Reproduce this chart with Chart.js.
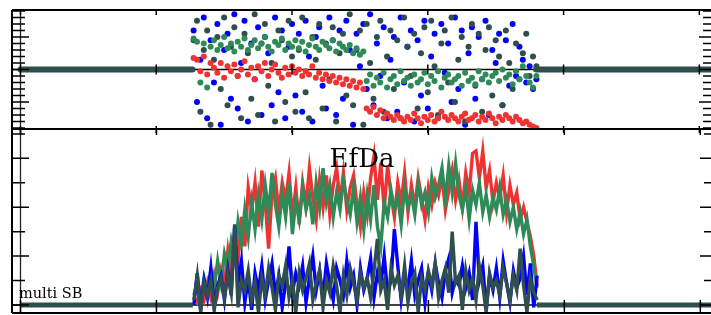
<!DOCTYPE html>
<html>
<head>
<meta charset="utf-8">
<script src="https://cdn.jsdelivr.net/npm/chart.js"></script>
<style>
html, body { margin: 0; padding: 0; background: #fff; overflow: hidden; width: 711px; height: 315px; }
#wrap { position: relative; width: 711px; height: 315px; overflow: hidden; }
canvas { position: absolute; left: 0; top: 0; }
</style>
</head>
<body>
<div id="wrap">
  <canvas id="chartTop" width="722" height="315"></canvas>
  <canvas id="chartBottom" width="722" height="315"></canvas>
</div>
<script>
// --- dados ---
const X_START = 51;                       // posicao da primeira amostra
const X_TICKS = [0, 40, 80, 120, 160, 200];
const flatLeft = [0, 50.7];
const flatRight = [151.9, 206];

// painel de cima (pontos)
const topBlue = [
  1.2, -1.0, 0.3, 1.6, -1.5, 0.9, -0.4, 1.4, -1.7, 0.6,
  1.1, -0.9, 1.7, -1.2, 0.2, 1.5, -1.6, 0.8, -0.3, 1.3,
  -1.4, 1.0, 0.5, -1.1, 1.6, -0.7, 1.2, -1.5, 0.7, 1.4,
  -0.8, 1.1, -1.3, 1.5, 0.4, -1.6, 1.0, 1.3, -0.5, -1.2,
  1.6, 0.9, -1.4, 1.2, -0.9, 1.5, 0.6, -1.7, 1.1, 0.1,
  1.4, -0.6, 1.7, -1.1, 0.8, -0.2, 1.3, -1.5, 0.3, 1.0,
  -1.3, 1.6, -0.4, 0.7, 1.2, -1.6, 0.9, -0.8, 1.5, -1.2,
  0.4, 1.1, -1.5, 1.4, -0.1, 0.8, -1.0, 1.6, -0.6, 1.2,
  -1.7, 0.5, 1.3, -0.9, 1.0, -0.3, 1.5, -1.4, 0.6, 0.2,
  1.1, -1.1, 0.9, -0.5, 1.4, -0.2, 0.7, 0.3, -0.4, 0.1,
  -0.6, -0.3
];
const topSlate = [
  0.9, 1.5, -1.3, 0.6, 1.2, -1.7, 0.3, 1.0, -0.6, 1.6,
  -1.1, 0.7, 1.3, -0.2, -1.5, 1.1, 0.5, -0.9, 1.7, -1.4,
  0.8, 1.4, -0.5, 0.2, -1.6, 1.2, 0.9, -1.0, 1.5, 0.4,
  -1.3, 0.6, 1.6, -0.7, -1.5, 1.0, 0.3, 1.4, -1.2, 0.8,
  -0.3, 1.3, -1.6, 0.5, 1.1, -0.8, 1.7, -1.1, 0.6, 1.2,
  -1.7, 1.4, 0.2, -0.9, 1.0, 1.5, -1.3, 0.4, 1.2, -0.6,
  0.9, -1.5, 1.6, 0.7, -0.2, 1.1, -1.2, 0.5, 1.3, -0.7,
  1.5, 0.1, -1.4, 0.8, 1.2, -0.4, 1.6, -1.0, 0.3, 1.0,
  -1.6, 0.7, 1.4, -0.5, 1.1, -1.3, 0.6, 1.3, -0.8, 0.9,
  0.4, -1.1, 1.2, 0.2, -0.6, 0.8, -0.3, 0.5, 1.1, -0.2,
  0.4, 0.1
];
const topGreen = [
  0.95, 0.85, -0.40, 0.80, -0.55,
  0.70, 0.90, 0.60, 0.75, 1.00, 0.65, 0.80, 0.55, 0.85, 0.70,
  0.95, 0.60, 0.75, 0.90, 0.65, 0.80, 1.00, 0.70, 0.55, 0.85,
  0.75, 0.95, 0.60, 0.80, 0.70, 0.90, 0.65, 0.85, 0.55, 0.75,
  0.95, 0.70, 0.60, 0.85, 0.75, 0.65, 0.90, 0.55, 0.80, 0.70,
  0.60, 0.75, 0.50, 0.65, 0.45, 0.55,
  -0.35, -0.15, -0.50, -0.25, -0.40, -0.10, -0.55, -0.30, -0.20, -0.45,
  -0.05, -0.35, -0.25, -0.50, -0.15, -0.40, -0.30, -0.10, -0.45, -0.20,
  -0.35, -0.05, -0.55, -0.25, -0.15, -0.40, -0.30, -0.20, -0.50, -0.10,
  -0.35, -0.25, -0.45, -0.05, -0.30, -0.15, -0.40, -0.20, -0.10, -0.35,
  0.00, -0.25, -0.15, -0.45, -0.05, -0.30, 0.10, -0.20, -0.40, -0.55,
  -0.20
];
const topRed = [
  0.35, 0.30, -0.05, 0.40, -0.15, 0.20,
  0.05, -0.10, 0.20, -0.25, 0.10, -0.05, 0.15, -0.20, 0.00, 0.25,
  -0.15, 0.05, -0.30, 0.10, -0.05, 0.20, -0.20, 0.00, 0.15, -0.10,
  -0.25, 0.05, -0.15, 0.10,
  -0.10, 0.00, -0.20, -0.05, -0.15, 0.10, -0.25, -0.10, -0.30, -0.15,
  -0.35, -0.20, -0.40, -0.25, -0.45, -0.30, -0.50, -0.35, -0.55, -0.40,
  -0.60,
  -1.20, -1.30, -1.15, -1.40, -1.25, -1.50, -1.35, -1.45, -1.55, -1.40,
  -1.50, -1.60, -1.45, -1.55, -1.35, -1.50, -1.65, -1.45, -1.55, -1.40,
  -1.60, -1.50, -1.30, -1.45, -1.55, -1.40, -1.50, -1.60, -1.45, -1.35,
  -1.55, -1.50, -1.40, -1.60, -1.45, -1.55, -1.35, -1.50, -1.65, -1.45,
  -1.55, -1.40, -1.50, -1.60, -1.45, -1.55, -1.65, -1.60, -1.70, -1.75,
  -1.80
];

// painel de baixo (linhas)
const botRed = [
  0.3, 0.1, 0.6, 0.2, 0.9, 0.3, 1.2, 0.5, 1.4, 0.8,
  2.2, 1.1, 2.6, 1.8, 3.6, 2.4, 4.8, 3.9, 5.0, 3.2,
  5.5, 4.2, 2.3, 4.6, 5.2, 3.8, 5.0, 4.3, 5.4, 3.6,
  4.8, 3.3, 5.0, 4.1, 5.6, 4.4, 3.5, 5.1, 4.0, 5.3,
  3.7, 4.9, 5.6, 4.2, 5.4, 3.9, 4.8, 5.3, 4.1, 3.2,
  4.6, 3.7, 5.2, 6.1, 4.3, 5.8, 3.9, 5.7, 4.5, 3.6,
  5.0, 4.2, 5.4, 3.8, 4.9, 4.0, 5.2, 4.4, 3.5, 4.8,
  4.1, 5.0, 4.5, 5.3, 3.9, 4.7, 5.5, 4.3, 5.1, 4.0,
  5.4, 4.6, 6.2, 6.3, 5.2, 6.3, 4.8, 5.5, 4.2, 5.0,
  4.4, 5.3, 3.8, 4.9, 4.1, 4.6, 3.5, 4.0, 3.4, 2.8,
  2.0, 0.8
];
const botGreen = [
  0.4, 0.8, 0.2, 1.1, 0.5, 1.4, 0.7, 1.8, 0.9, 2.1,
  1.5, 2.6, 1.9, 3.4, 2.5, 3.9, 2.8, 4.2, 3.1, 4.5,
  3.5, 4.9, 3.8, 5.4, 4.1, 3.2, 4.6, 3.6, 5.0, 2.9,
  4.3, 3.5, 4.8, 3.9, 4.5, 3.3, 5.0, 4.0, 5.6, 4.2,
  4.9, 3.6, 4.6, 3.9, 5.1, 4.3, 3.7, 4.8, 3.4, 4.4,
  3.1, 4.5, 3.5, 4.9, 3.2, 2.4, 4.2, 3.6, 4.7, 3.9,
  4.4, 3.3, 4.8, 4.0, 4.5, 3.7, 5.0, 4.1, 4.6, 3.8,
  5.2, 4.4, 4.9, 5.6, 4.3, 5.7, 4.6, 5.8, 4.5, 3.9,
  4.8, 3.5, 4.7, 4.1, 5.0, 3.8, 4.5, 3.6, 4.4, 3.9,
  4.8, 3.7, 4.3, 3.4, 4.0, 3.1, 3.8, 2.9, 3.5, 2.4,
  1.6, 0.7
];
const botBlue = [
  0.0, 1.3, -0.2, 1.0, 0.3, 1.5, -0.1, 0.8, 1.2, 0.2,
  1.4, 0.4, 3.2, 0.9, 1.8, 0.1, 1.1, -0.2, 1.3, 0.6,
  1.6, 0.2, 1.0, 1.7, 0.4, 1.2, -0.1, 0.9, 2.4, 0.5,
  1.3, 0.8, 1.6, 0.1, 1.1, 2.0, 0.6, 1.4, 0.3, 1.7,
  0.9, 0.2, 1.5, 1.0, 0.4, 1.8, 0.7, 1.2, 0.0, 1.5,
  0.6, 1.1, 1.9, 0.3, 1.3, 0.8, 2.0, 0.5, 1.0, 3.1,
  1.6, 0.2, 1.2, 0.7, 1.8, 0.4, 1.0, 1.5, 0.1, 1.3,
  0.6, 1.7, 0.9, 0.3, 1.4, 1.9, 0.5, 1.1, 0.8, 1.6,
  0.7, 1.3, 0.2, 3.4, 1.0, 1.6, -0.2, 1.2, 0.6, 1.5,
  0.3, 1.8, 0.9, 0.1, 1.4, 0.7, 1.1, 2.0, 0.4, 1.7,
  -0.1, 1.2
];
const botSlate = [
  0.2, 1.2, -0.3, 0.9, 0.4, 1.0, -0.2, 0.7, 1.1, 0.3,
  1.3, 0.5, 3.3, -0.1, 1.0, 0.6, 1.4, 0.2, 0.9, -0.3,
  1.1, 0.4, 1.5, 0.7, -0.2, 1.2, 0.8, 1.6, 0.3, 1.0,
  -0.3, 1.3, 0.6, 1.1, 1.7, 0.2, 0.9, 1.4, -0.1, 1.0,
  0.5, 1.6, 0.8, -0.3, 1.2, 0.4, 1.5, 0.9, 0.2, 1.3,
  0.7, 1.1, 0.3, 1.4, 2.7, 0.6, 1.0, -0.2, 1.5, 0.8,
  1.2, 0.4, 1.6, 0.1, 0.9, 1.3, -0.3, 1.1, 0.6, 1.4,
  0.8, 1.7, 0.3, 1.0, 1.5, 0.5, 3.0, 0.9, 1.2, -0.2,
  1.4, 0.6, 1.1, 0.2, 1.6, 0.8, -0.3, 1.3, 0.7, 1.0,
  0.4, 1.5, 0.9, 0.2, 1.2, 0.6, 2.3, 0.8, -0.3, 1.1,
  0.5, 0.2
];

const BLUE = '#0000ff', SLATE = '#2f4f4f', GREEN = '#2e8b57', RED = '#ef3333';
const X_MIN = -2.5, X_MAX = 205.5;

const toPoints = vals => vals.map((v, i) => ({ x: X_START + i, y: v }));
const flatPoints = r => [{ x: r[0], y: 0 }, { x: r[1], y: 0 }];

// moldura, ticks e textos desenhados a partir das escalas
function framePlugin(name, yMarks, xSpans, drawText) {
  return {
    id: 'frame' + name,
    beforeDatasetsDraw(chart) {
      const { ctx, chartArea: a } = chart;
      const y0 = chart.scales.y.getPixelForValue(0);
      ctx.save();
      ctx.strokeStyle = '#000';
      ctx.lineWidth = 1.5;
      ctx.beginPath();
      ctx.moveTo(a.left, y0);
      ctx.lineTo(a.right, y0);
      ctx.stroke();
      ctx.restore();
    },
    afterDraw(chart) {
      const { ctx, chartArea: a, scales: { x, y } } = chart;
      ctx.save();
      ctx.strokeStyle = '#000';
      ctx.lineWidth = 2;
      ctx.beginPath();
      ctx.moveTo(a.left, a.top); ctx.lineTo(a.right, a.top);
      ctx.moveTo(a.left, a.bottom); ctx.lineTo(a.right, a.bottom);
      ctx.moveTo(a.left, a.top); ctx.lineTo(a.left, a.bottom);
      ctx.stroke();

      const x0 = x.getPixelForValue(0);
      ctx.lineWidth = 1.3;
      ctx.strokeStyle = '#222';
      ctx.beginPath();
      ctx.moveTo(x0, a.top); ctx.lineTo(x0, a.bottom);
      ctx.stroke();

      ctx.strokeStyle = '#000';
      ctx.lineWidth = 1.5;
      ctx.beginPath();
      yMarks.forEach(m => {
        const py = y.getPixelForValue(m.v);
        ctx.moveTo(a.left, py); ctx.lineTo(a.left + (m.major ? 17 : 13), py);
        ctx.moveTo(a.right - (m.major ? 19 : 15), py); ctx.lineTo(a.right, py);
      });
      const y0 = y.getPixelForValue(0);
      X_TICKS.forEach(t => {
        const px = x.getPixelForValue(t);
        xSpans.forEach(s => {
          const base = s.at === 'top' ? a.top : (s.at === 'bottom' ? a.bottom : y0);
          ctx.moveTo(px, base + s.from); ctx.lineTo(px, base + s.to);
        });
      });
      ctx.stroke();
      if (drawText) drawText(ctx, a);
      ctx.restore();
    }
  };
}

function panelOptions(yMin, yMax, padTop, padBottom) {
  return {
    responsive: false,
    animation: false,
    events: [],
    layout: { padding: { left: 12, right: 3, top: padTop, bottom: padBottom } },
    plugins: { legend: { display: false }, tooltip: { enabled: false } },
    scales: {
      x: { type: 'linear', display: false, min: X_MIN, max: X_MAX },
      y: { type: 'linear', display: false, min: yMin, max: yMax }
    }
  };
}

// --- painel de cima ---
const topMarks = [];
for (let k = -9; k <= 9; k++) topMarks.push({ v: k * 0.2, major: k % 5 === 0 });

const dot = (data, color, order) => ({
  type: 'scatter', data: toPoints(data), order: order,
  pointRadius: 3, pointBorderWidth: 0, pointBackgroundColor: color, showLine: false
});
const flat = (r, width, order) => ({
  type: 'line', data: flatPoints(r), order: order,
  borderColor: SLATE, borderWidth: width, borderCapStyle: 'round', pointRadius: 0
});

new Chart(document.getElementById('chartTop'), {
  type: 'scatter',
  data: {
    datasets: [
      flat(flatLeft, 6, 0),
      flat(flatRight, 6, 0),
      dot(topRed, RED, 1),
      dot(topGreen, GREEN, 2),
      dot(topSlate, SLATE, 3),
      dot(topBlue, BLUE, 4)
    ]
  },
  options: panelOptions(-1.83, 1.83, 10, 186),
  plugins: [framePlugin('Top', topMarks, [
    { at: 'top', from: 0, to: 5 },
    { at: 'zero', from: -5, to: 5 },
    { at: 'bottom', from: -3, to: 4 }
  ])]
});

// --- painel de baixo ---
const botMarks = [];
for (let k = 0; k <= 7; k++) botMarks.push({ v: k, major: k % 2 === 0 });

const trace = (data, color, order) => ({
  type: 'line', data: toPoints(data), order: order,
  borderColor: color, borderWidth: 3.4, pointRadius: 0, tension: 0, borderJoinStyle: 'miter'
});

new Chart(document.getElementById('chartBottom'), {
  type: 'line',
  data: {
    datasets: [
      { type: 'line', data: flatPoints(flatLeft), order: 0, borderColor: SLATE, borderWidth: 5, pointRadius: 0 },
      { type: 'line', data: flatPoints(flatRight), order: 0, borderColor: SLATE, borderWidth: 5, pointRadius: 0 },
      trace(botSlate, SLATE, 1),
      trace(botBlue, BLUE, 2),
      trace(botGreen, GREEN, 3),
      trace(botRed, RED, 4)
    ]
  },
  options: panelOptions(-0.33, 7.2, 129, 2),
  plugins: [framePlugin('Bottom', botMarks, [
    { at: 'top', from: 0, to: 6 },
    { at: 'zero', from: -5, to: 8 }
  ], (ctx, a) => {
    ctx.fillStyle = '#000';
    ctx.font = '26px "DejaVu Serif"';
    ctx.textAlign = 'center';
    ctx.textBaseline = 'alphabetic';
    ctx.fillText('EfDa', 362, 167);
    ctx.font = '14.5px "DejaVu Serif"';
    ctx.textAlign = 'left';
    ctx.fillText('multi SB', 19, 298);
  })]
});
</script>
</body>
</html>
